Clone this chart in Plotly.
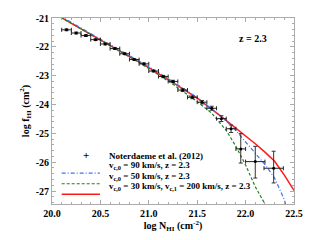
import plotly.graph_objects as go

# ---- data ----
logN = [20.15, 20.25, 20.35, 20.45, 20.55, 20.65, 20.75, 20.85, 20.95, 21.05,
        21.15, 21.25, 21.35, 21.45, 21.55, 21.65, 21.75, 21.85, 21.95, 22.10, 22.29]
logf = [-21.41, -21.52, -21.61, -21.75, -21.90, -22.06, -22.24, -22.44, -22.59, -22.84,
        -23.03, -23.20, -23.50, -23.75, -23.92, -24.13, -24.49, -24.84, -25.54, -25.98, -26.21]
xerr = [0.05] * 19 + [0.10, 0.10]
yerr_up = [0.03, 0.03, 0.03, 0.03, 0.03, 0.03, 0.03, 0.03, 0.03, 0.03,
           0.04, 0.04, 0.05, 0.05, 0.06, 0.07, 0.10, 0.13, 0.53, 0.53, 0.59]
yerr_dn = [0.03, 0.03, 0.03, 0.03, 0.03, 0.03, 0.03, 0.03, 0.03, 0.03,
           0.04, 0.04, 0.05, 0.05, 0.06, 0.07, 0.10, 0.13, 0.49, 0.57, 0.51]

red_x = [20.0, 20.25, 20.5, 20.75, 21.0, 21.25, 21.5, 21.75, 22.0, 22.1, 22.2, 22.3, 22.4, 22.5]
red_y = [-20.80, -21.28, -21.76, -22.24, -22.72, -23.24, -23.78, -24.42, -25.08, -25.36,
         -25.65, -25.97, -26.45, -26.98]

blue_x = [20.0, 20.25, 20.5, 20.75, 21.0, 21.25, 21.5, 21.75, 21.9, 22.0, 22.1, 22.2, 22.3, 22.4, 22.5]
blue_y = [-20.77, -21.25, -21.73, -22.21, -22.69, -23.21, -23.76, -24.42, -24.90, -25.30,
          -25.68, -26.08, -26.55, -27.30, -28.5]

green_x = [20.0, 20.25, 20.5, 20.75, 21.0, 21.25, 21.5, 21.65, 21.8, 21.9, 22.0, 22.1, 22.2, 22.3]
green_y = [-20.80, -21.28, -21.76, -22.25, -22.75, -23.30, -23.90, -24.30, -24.90, -25.45,
           -26.10, -26.85, -27.45, -28.3]

x_tick_vals = [20.0, 20.5, 21.0, 21.5, 22.0, 22.5]
x_tick_text = ["20.0", "20.5", "21.0", "21.5", "22.0", "22.5"]
y_tick_vals = [-21, -22, -23, -24, -25, -26, -27]
y_tick_text = ["-21", "-22", "-23", "-24", "-25", "-26", "-27"]

legend_labels = [
    "Noterdaeme et al. (2012)",
    "v<sub>c,0</sub> = 90 km/s, z = 2.3",
    "v<sub>c,0</sub> = 50 km/s, z = 2.3",
    "v<sub>c,0</sub> = 30 km/s, v<sub>c,1</sub> = 200 km/s, z = 2.3",
]

RED = "#ff1a1a"
BLUE = "#3d74f5"
GREEN = "#1f7f1f"
FONT = "Liberation Serif"
BLUE_DASH = "4px,2px,1px,2px"
GREEN_DASH = "3px,2px"

fig = go.Figure()
fig.add_trace(go.Scatter(x=red_x, y=red_y, mode="lines",
                         line=dict(color=RED, width=1.5), showlegend=False))
fig.add_trace(go.Scatter(x=blue_x, y=blue_y, mode="lines",
                         line=dict(color=BLUE, width=1.2, dash=BLUE_DASH), showlegend=False))
fig.add_trace(go.Scatter(x=green_x, y=green_y, mode="lines",
                         line=dict(color=GREEN, width=1.2, dash=GREEN_DASH), showlegend=False))
fig.add_trace(go.Scatter(
    x=logN, y=logf, mode="markers",
    marker=dict(color="black", size=3),
    error_x=dict(type="data", array=xerr, color="#222", thickness=1, width=2),
    error_y=dict(type="data", array=yerr_up, arrayminus=yerr_dn, color="#333", thickness=1, width=2),
    showlegend=False))

# manual compact legend
x0, x1, xt = 0.04, 0.198, 0.227
rows = [0.222, 0.166, 0.109, 0.052]
styles = [None, dict(color=BLUE, width=1.2, dash=BLUE_DASH),
          dict(color=GREEN, width=1.2, dash=GREEN_DASH), dict(color=RED, width=1.5)]
for lab, yy, st in zip(legend_labels, rows, styles):
    if st is None:
        fig.add_annotation(x=(x0 + x1) / 2, y=yy, xref="paper", yref="paper", text="+",
                           showarrow=False, font=dict(family=FONT, size=11, color="black", weight="bold"))
    else:
        fig.add_shape(type="line", xref="paper", yref="paper", x0=x0, x1=x1, y0=yy, y1=yy, line=st)
    fig.add_annotation(x=xt, y=yy, xref="paper", yref="paper", text=lab, xanchor="left",
                       showarrow=False, font=dict(family=FONT, size=9, color="black", weight="bold"))

fig.add_annotation(x=0.895, y=0.93, xref="paper", yref="paper", text="z = 2.3",
                   showarrow=False, font=dict(family=FONT, size=10, color="black", weight="bold"))

axis_common = dict(showgrid=False, zeroline=False, showline=True, linecolor="#aaaaaa", linewidth=1,
                   mirror="allticks", ticks="inside", ticklen=4, tickcolor="#aaaaaa",
                   tickfont=dict(family=FONT, size=10, color="black", weight="bold"))
fig.update_xaxes(range=[20.0, 22.5], tickvals=x_tick_vals, ticktext=x_tick_text,
                 minor=dict(ticks="inside", ticklen=2, dtick=0.1, tickcolor="#aaaaaa"),
                 title=dict(text="log N<sub>HI</sub> (cm<sup>-2</sup>)", standoff=2,
                            font=dict(family=FONT, size=10, color="black", weight="bold")),
                 **axis_common)
fig.update_yaxes(range=[-27.45, -21.0], tickvals=y_tick_vals, ticktext=y_tick_text,
                 minor=dict(ticks="inside", ticklen=2, dtick=0.2, tickcolor="#aaaaaa"),
                 title=dict(text="log f<sub>HI</sub> (cm<sup>2</sup>)", standoff=4,
                            font=dict(family=FONT, size=10, color="black", weight="bold")),
                 **axis_common)

fig.update_layout(width=315, height=240, margin=dict(l=52, r=16, t=17, b=34),
                  paper_bgcolor="white", plot_bgcolor="white", showlegend=False)
fig.write_html("out.html", config={"displayModeBar": False},
               post_script="document.body.style.margin='0';")
